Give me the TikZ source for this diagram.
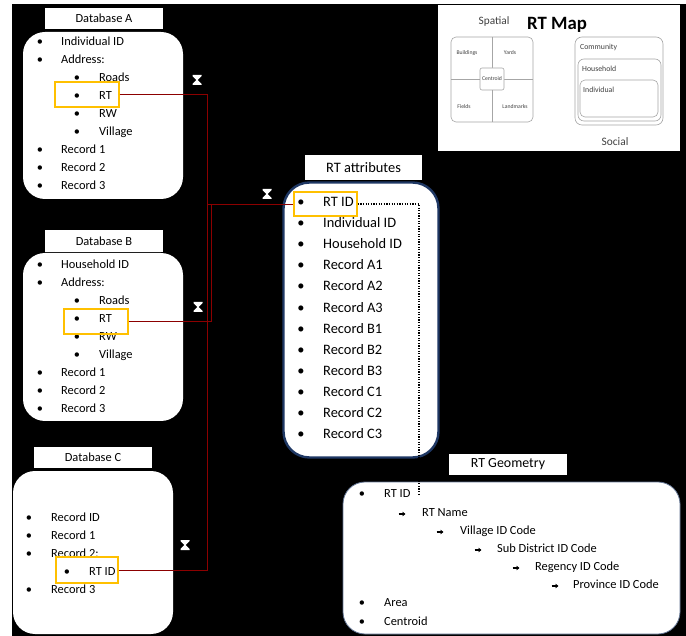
\documentclass[tikz,border=0pt]{standalone}
\usepackage{fontspec}
\setmainfont{Carlito}
\usetikzlibrary{arrows.meta}
\definecolor{navy}{HTML}{1F3864}
\definecolor{hlyellow}{HTML}{FFC000}
\definecolor{linkred}{HTML}{8C0000}
\definecolor{mapline}{HTML}{A6A6A6}
\definecolor{maptext}{HTML}{404040}
\definecolor{canvas}{HTML}{000000}
\definecolor{paper}{HTML}{FFFFFF}

% one bullet line: name, bullet x, text x, y, text
\newcommand{\dbitem}[5]{%
  \node[bul] (#1b) at (#2,#4) {\textbullet};
  \node[txt] (#1) at (#3,#4) {#5};}
% one arrow-bullet line
\newcommand{\georow}[5]{%
  \draw[geoarrow] (#2-3.5,#4) -- (#2+3.5,#4);
  \node[txt] (#1) at (#3,#4) {#5};}
% one-to-one marker (white hourglass) centred at x,y
\newcommand{\onemark}[2]{%
  \fill[paper] (#1-4.5,#2-5) -- (#1+4.5,#2-5) -- (#1+4.5,#2-3.8) -- (#1+0.6,#2)
    -- (#1+4.5,#2+3.8) -- (#1+4.5,#2+5) -- (#1-4.5,#2+5) -- (#1-4.5,#2+3.8)
    -- (#1-0.6,#2) -- (#1-4.5,#2-3.8) -- cycle;}

\begin{document}
\begin{tikzpicture}[x=1pt,y=-1pt,
  font=\fontsize{12.4}{14}\selectfont,
  titlebox/.style={fill=paper, inner sep=0pt, align=center},
  dbbox/.style={fill=paper, rounded corners=22pt, inner sep=0pt},
  bul/.style={inner sep=0pt, anchor=mid},
  txt/.style={inner sep=0pt, anchor=mid west},
  hl/.style={draw=hlyellow, line width=1.4pt, inner sep=0pt},
  link/.style={draw=linkred, line width=0.8pt},
  keydots/.style={draw=black, line width=1.8pt, dash pattern=on 1.2pt off 1.4pt},
  geoarrow/.style={-{Triangle[length=3pt,width=4.4pt]}, line width=1.5pt},
  maptxt/.style={inner sep=0pt, text=maptext},
  mapbox/.style={draw=mapline, line width=0.6pt}
]
\useasboundingbox (0,0) rectangle (686,636);
% white page margin, dark canvas
\fill[paper] (0,0) rectangle (686,636);
\fill[canvas] (12,4) rectangle (686,636);

% ---------------- Database A ----------------
\node[titlebox, minimum width=118pt, minimum height=21pt] (dbAt) at (104,18.5) {Database A};
\node[dbbox, minimum width=160pt, minimum height=167pt] (dbA) at (103,115.5) {};
\dbitem{a1}{40}{61}{43}{Individual ID}
\dbitem{a2}{40}{61}{61}{Address:}
\dbitem{a3}{77}{99}{79}{Roads}
\dbitem{a4}{77}{99}{97}{RT}
\dbitem{a5}{77}{99}{115}{RW}
\dbitem{a6}{77}{99}{133}{Village}
\dbitem{a7}{40}{61}{151}{Record 1}
\dbitem{a8}{40}{61}{169}{Record 2}
\dbitem{a9}{40}{61}{187}{Record 3}
\node[hl, minimum width=64pt, minimum height=25pt] (rtA) at (87,94.5) {};

% ---------------- Database B ----------------
\node[titlebox, minimum width=118pt, minimum height=22pt] (dbBt) at (104,241) {Database B};
\node[dbbox, minimum width=160pt, minimum height=168pt] (dbB) at (103,337) {};
\dbitem{b1}{40}{61}{266}{Household ID}
\dbitem{b2}{40}{61}{284}{Address:}
\dbitem{b3}{77}{99}{302}{Roads}
\dbitem{b4}{77}{99}{320}{RT}
\dbitem{b5}{77}{99}{338}{RW}
\dbitem{b6}{77}{99}{356}{Village}
\dbitem{b7}{40}{61}{374}{Record 1}
\dbitem{b8}{40}{61}{392}{Record 2}
\dbitem{b9}{40}{61}{410}{Record 3}
\node[hl, minimum width=64pt, minimum height=25pt] (rtB) at (96,321.5) {};

% ---------------- Database C ----------------
\node[titlebox, minimum width=118pt, minimum height=21pt] (dbCt) at (93,457.5) {Database C};
\node[dbbox, minimum width=160pt, minimum height=163pt] (dbC) at (93,552.5) {};
\dbitem{c1}{29}{51}{519}{Record ID}
\dbitem{c2}{29}{51}{537}{Record 1}
\dbitem{c3}{29}{51}{555}{Record 2:}
\dbitem{c4}{67}{89}{573}{RT ID}
\dbitem{c5}{29}{51}{591}{Record 3}
\node[hl, minimum width=62pt, minimum height=26pt] (rtC) at (87,570) {};

% ---------------- RT attributes ----------------
\node[titlebox, minimum width=117pt, minimum height=25pt,
  font=\fontsize{14.4}{16}\selectfont] (attrt) at (363.5,167.5) {RT attributes};
\node[fill=paper, draw=navy, line width=2.4pt, rounded corners=26pt, inner sep=0pt,
  minimum width=155pt, minimum height=275pt] (attr) at (361,320) {};
\begin{scope}[font=\fontsize{14.4}{16}\selectfont]
\dbitem{r1}{301}{323}{204}{RT ID}
\dbitem{r2}{301}{323}{225.2}{Individual ID}
\dbitem{r3}{301}{323}{246.4}{Household ID}
\dbitem{r4}{301}{323}{267.5}{Record A1}
\dbitem{r5}{301}{323}{288.6}{Record A2}
\dbitem{r6}{301}{323}{309.8}{Record A3}
\dbitem{r7}{301}{323}{330.9}{Record B1}
\dbitem{r8}{301}{323}{352}{Record B2}
\dbitem{r9}{301}{323}{373.2}{Record B3}
\dbitem{r10}{301}{323}{394.3}{Record C1}
\dbitem{r11}{301}{323}{415.4}{Record C2}
\dbitem{r12}{301}{323}{436.5}{Record C3}
\end{scope}
\node[hl, minimum width=63pt, minimum height=24pt] (rtid) at (325.5,204) {};

% ---------------- RT Geometry ----------------
\node[titlebox, minimum width=118pt, minimum height=21pt,
  font=\fontsize{13.9}{16}\selectfont] (geot) at (508,464.5) {RT Geometry};
\node[fill=paper, draw=navy!70, line width=0.8pt, rounded corners=22pt, inner sep=0pt,
  minimum width=337pt, minimum height=152pt] (geo) at (511.5,558) {};
\dbitem{g1}{362}{384}{495}{RT ID}
\georow{g2}{402}{422}{514}{RT Name}
\georow{g3}{440}{460}{532}{Village ID Code}
\georow{g4}{478}{497}{550}{Sub District ID Code}
\georow{g5}{516}{535}{568}{Regency ID Code}
\georow{g6}{555}{573}{586}{Province ID Code}
\dbitem{g7}{362}{384}{604}{Area}
\dbitem{g8}{362}{384}{623}{Centroid}

% ---------------- RT Map ----------------
\node[fill=paper, inner sep=0pt, minimum width=242pt, minimum height=146pt] (map) at (559,78) {};
\node[inner sep=0pt, font=\fontsize{18.8}{20}\bfseries] (maptitle) at (557,25) {RT Map};
\node[maptxt, font=\fontsize{11.3}{13}\selectfont] (spatial) at (494,21) {Spatial};
\node[maptxt, font=\fontsize{11.4}{13}\selectfont] (social) at (615,142) {Social};
% spatial quadrants
\draw[mapbox, rounded corners=5pt] (451,37) rectangle (533,122);
\draw[mapbox] (492,37) -- (492,122);
\draw[mapbox] (451,79) -- (533,79);
\node[mapbox, fill=paper, rounded corners=2pt, inner sep=0pt,
  minimum width=24pt, minimum height=22pt] (centroidbox) at (492,79) {};
\begin{scope}[font=\fontsize{5.7}{7}\selectfont]
\node[maptxt] (buildings) at (467,53) {Buildings};
\node[maptxt] (yards) at (510,53) {Yards};
\node[maptxt] (fields) at (464,107) {Fields};
\node[maptxt] (landmarks) at (515,107) {Landmarks};
\node[maptxt] (centroidlbl) at (492,79) {Centroid};
\end{scope}
% social nesting
\draw[mapbox, rounded corners=7pt] (575,37) rectangle (663,125);
\draw[mapbox, rounded corners=6pt] (578,59) rectangle (661,121);
\draw[mapbox, rounded corners=5pt] (580,80) rectangle (658,117);
\begin{scope}[font=\fontsize{7.8}{9}\selectfont]
\node[maptxt, anchor=mid west] (community) at (580,47) {Community};
\node[maptxt, anchor=mid west] (household) at (582,69) {Household};
\node[maptxt, anchor=mid west] (individual) at (583,90) {Individual};
\end{scope}

% ---------------- key links ----------------
\coordinate (hubA) at (207,204);
\coordinate (hubB) at (211,204);
\coordinate (geotap) at (419,495);
\draw[link] (rtA.east) -| (hubA) -- (rtid.west);
\draw[link] (rtB.east) -| (hubB);
\draw[link] (rtC.east) -| (hubA);
\draw[keydots] (rtid.east) -| (geotap);

% one-to-one markers
\onemark{197}{80}
\onemark{198}{307}
\onemark{185}{545}
\onemark{267}{194}
\end{tikzpicture}
\end{document}
